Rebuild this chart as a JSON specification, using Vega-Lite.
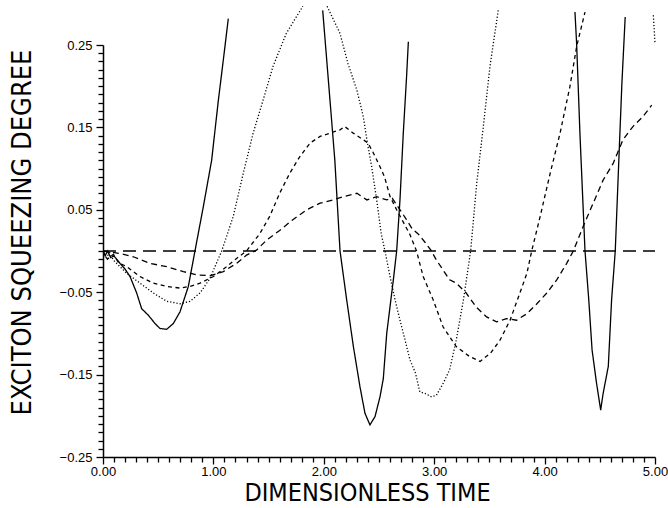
{
  "$schema": "https://vega.github.io/schema/vega-lite/v6.json",
  "width": 552,
  "height": 412,
  "autosize": {"type": "none"},
  "padding": {"left": 103, "top": 45, "right": 13, "bottom": 51},
  "background": "white",
  "config": {
    "view": {"stroke": null},
    "axis": {"grid": false, "domainColor": "black", "tickColor": "black", "labelColor": "black", "titleColor": "black", "labelFont": "Liberation Sans", "titleFont": "DejaVu Sans Condensed, DejaVu Sans", "titleFontWeight": "normal", "labelFontSize": 13, "titleFontSize": 25, "domainWidth": 1.5, "tickWidth": 1.3}
  },
  "data": {"values": [
    {"s":"Z","g":0,"t":0,"v":0},{"s":"Z","g":0,"t":5,"v":0},
    {"s":"A","g":1,"t":0,"v":0},{"s":"A","g":1,"t":0.02,"v":-0.006},{"s":"A","g":1,"t":0.04,"v":0.0},{"s":"A","g":1,"t":0.07,"v":-0.008},{"s":"A","g":1,"t":0.1,"v":-0.006},{"s":"A","g":1,"t":0.154,"v":-0.015},{"s":"A","g":1,"t":0.2,"v":-0.022},{"s":"A","g":1,"t":0.245,"v":-0.031},{"s":"A","g":1,"t":0.305,"v":-0.051},{"s":"A","g":1,"t":0.35,"v":-0.07},{"s":"A","g":1,"t":0.411,"v":-0.078},{"s":"A","g":1,"t":0.471,"v":-0.088},{"s":"A","g":1,"t":0.516,"v":-0.094},{"s":"A","g":1,"t":0.577,"v":-0.095},{"s":"A","g":1,"t":0.637,"v":-0.088},{"s":"A","g":1,"t":0.697,"v":-0.074},{"s":"A","g":1,"t":0.773,"v":-0.043},{"s":"A","g":1,"t":0.833,"v":0},{"s":"A","g":1,"t":0.909,"v":0.054},{"s":"A","g":1,"t":0.984,"v":0.11},{"s":"A","g":1,"t":1.045,"v":0.183},{"s":"A","g":1,"t":1.09,"v":0.232},{"s":"A","g":1,"t":1.135,"v":0.282},
    {"s":"A","g":2,"t":1.99,"v":0.292},{"s":"A","g":2,"t":2.056,"v":0.183},{"s":"A","g":2,"t":2.1,"v":0.11},{"s":"A","g":2,"t":2.147,"v":0},{"s":"A","g":2,"t":2.207,"v":-0.059},{"s":"A","g":2,"t":2.268,"v":-0.116},{"s":"A","g":2,"t":2.328,"v":-0.165},{"s":"A","g":2,"t":2.373,"v":-0.197},{"s":"A","g":2,"t":2.418,"v":-0.211},{"s":"A","g":2,"t":2.464,"v":-0.201},{"s":"A","g":2,"t":2.509,"v":-0.177},{"s":"A","g":2,"t":2.539,"v":-0.155},{"s":"A","g":2,"t":2.57,"v":-0.1},{"s":"A","g":2,"t":2.63,"v":-0.035},{"s":"A","g":2,"t":2.66,"v":0},{"s":"A","g":2,"t":2.69,"v":0.062},{"s":"A","g":2,"t":2.72,"v":0.143},{"s":"A","g":2,"t":2.75,"v":0.212},{"s":"A","g":2,"t":2.766,"v":0.254},
    {"s":"A","g":3,"t":4.275,"v":0.29},{"s":"A","g":3,"t":4.29,"v":0.252},{"s":"A","g":3,"t":4.32,"v":0.143},{"s":"A","g":3,"t":4.366,"v":0},{"s":"A","g":3,"t":4.4,"v":-0.059},{"s":"A","g":3,"t":4.43,"v":-0.12},{"s":"A","g":3,"t":4.47,"v":-0.16},{"s":"A","g":3,"t":4.508,"v":-0.193},{"s":"A","g":3,"t":4.53,"v":-0.173},{"s":"A","g":3,"t":4.577,"v":-0.14},{"s":"A","g":3,"t":4.607,"v":-0.059},{"s":"A","g":3,"t":4.64,"v":0},{"s":"A","g":3,"t":4.67,"v":0.102},{"s":"A","g":3,"t":4.7,"v":0.203},{"s":"A","g":3,"t":4.73,"v":0.284},
    {"s":"B","g":4,"t":0,"v":0},{"s":"B","g":4,"t":0.03,"v":-0.008},{"s":"B","g":4,"t":0.06,"v":-0.002},{"s":"B","g":4,"t":0.094,"v":-0.011},{"s":"B","g":4,"t":0.214,"v":-0.027},{"s":"B","g":4,"t":0.335,"v":-0.039},{"s":"B","g":4,"t":0.456,"v":-0.051},{"s":"B","g":4,"t":0.577,"v":-0.061},{"s":"B","g":4,"t":0.697,"v":-0.064},{"s":"B","g":4,"t":0.788,"v":-0.061},{"s":"B","g":4,"t":0.879,"v":-0.051},{"s":"B","g":4,"t":0.97,"v":-0.033},{"s":"B","g":4,"t":1.075,"v":0},{"s":"B","g":4,"t":1.18,"v":0.042},{"s":"B","g":4,"t":1.27,"v":0.094},{"s":"B","g":4,"t":1.36,"v":0.143},{"s":"B","g":4,"t":1.45,"v":0.183},{"s":"B","g":4,"t":1.54,"v":0.224},{"s":"B","g":4,"t":1.66,"v":0.264},{"s":"B","g":4,"t":1.81,"v":0.297},
    {"s":"B","g":5,"t":2.03,"v":0.297},{"s":"B","g":5,"t":2.147,"v":0.264},{"s":"B","g":5,"t":2.22,"v":0.227},{"s":"B","g":5,"t":2.3,"v":0.195},{"s":"B","g":5,"t":2.358,"v":0.163},{"s":"B","g":5,"t":2.39,"v":0.135},{"s":"B","g":5,"t":2.434,"v":0.102},{"s":"B","g":5,"t":2.479,"v":0.062},{"s":"B","g":5,"t":2.52,"v":0.021},{"s":"B","g":5,"t":2.554,"v":0},{"s":"B","g":5,"t":2.6,"v":-0.031},{"s":"B","g":5,"t":2.645,"v":-0.059},{"s":"B","g":5,"t":2.69,"v":-0.084},{"s":"B","g":5,"t":2.736,"v":-0.108},{"s":"B","g":5,"t":2.78,"v":-0.132},{"s":"B","g":5,"t":2.83,"v":-0.148},{"s":"B","g":5,"t":2.87,"v":-0.171},{"s":"B","g":5,"t":2.92,"v":-0.173},{"s":"B","g":5,"t":2.976,"v":-0.177},{"s":"B","g":5,"t":3.02,"v":-0.175},{"s":"B","g":5,"t":3.08,"v":-0.161},{"s":"B","g":5,"t":3.14,"v":-0.144},{"s":"B","g":5,"t":3.2,"v":-0.108},{"s":"B","g":5,"t":3.265,"v":-0.059},{"s":"B","g":5,"t":3.33,"v":0},{"s":"B","g":5,"t":3.385,"v":0.082},{"s":"B","g":5,"t":3.445,"v":0.151},{"s":"B","g":5,"t":3.505,"v":0.224},{"s":"B","g":5,"t":3.58,"v":0.292},
    {"s":"B","g":6,"t":4.985,"v":0.286},{"s":"B","g":6,"t":5.0,"v":0.252},
    {"s":"C","g":7,"t":0,"v":0},{"s":"C","g":7,"t":0.04,"v":-0.01},{"s":"C","g":7,"t":0.094,"v":-0.004},{"s":"C","g":7,"t":0.14,"v":-0.014},{"s":"C","g":7,"t":0.214,"v":-0.019},{"s":"C","g":7,"t":0.335,"v":-0.031},{"s":"C","g":7,"t":0.456,"v":-0.039},{"s":"C","g":7,"t":0.577,"v":-0.043},{"s":"C","g":7,"t":0.697,"v":-0.045},{"s":"C","g":7,"t":0.788,"v":-0.043},{"s":"C","g":7,"t":0.879,"v":-0.039},{"s":"C","g":7,"t":1.0,"v":-0.031},{"s":"C","g":7,"t":1.12,"v":-0.019},{"s":"C","g":7,"t":1.21,"v":-0.009},{"s":"C","g":7,"t":1.3,"v":0},{"s":"C","g":7,"t":1.42,"v":0.021},{"s":"C","g":7,"t":1.51,"v":0.042},{"s":"C","g":7,"t":1.6,"v":0.07},{"s":"C","g":7,"t":1.69,"v":0.094},{"s":"C","g":7,"t":1.78,"v":0.114},{"s":"C","g":7,"t":1.875,"v":0.131},{"s":"C","g":7,"t":1.966,"v":0.139},{"s":"C","g":7,"t":2.056,"v":0.143},{"s":"C","g":7,"t":2.147,"v":0.147},{"s":"C","g":7,"t":2.19,"v":0.151},{"s":"C","g":7,"t":2.267,"v":0.143},{"s":"C","g":7,"t":2.358,"v":0.135},{"s":"C","g":7,"t":2.4,"v":0.131},{"s":"C","g":7,"t":2.449,"v":0.119},{"s":"C","g":7,"t":2.51,"v":0.102},{"s":"C","g":7,"t":2.55,"v":0.09},{"s":"C","g":7,"t":2.6,"v":0.066},{"s":"C","g":7,"t":2.66,"v":0.05},{"s":"C","g":7,"t":2.72,"v":0.035},{"s":"C","g":7,"t":2.78,"v":0.02},{"s":"C","g":7,"t":2.84,"v":0.0},{"s":"C","g":7,"t":2.9,"v":-0.031},{"s":"C","g":7,"t":2.99,"v":-0.059},{"s":"C","g":7,"t":3.08,"v":-0.092},{"s":"C","g":7,"t":3.2,"v":-0.116},{"s":"C","g":7,"t":3.32,"v":-0.128},{"s":"C","g":7,"t":3.415,"v":-0.134},{"s":"C","g":7,"t":3.51,"v":-0.124},{"s":"C","g":7,"t":3.597,"v":-0.108},{"s":"C","g":7,"t":3.687,"v":-0.084},{"s":"C","g":7,"t":3.776,"v":-0.051},{"s":"C","g":7,"t":3.84,"v":-0.027},{"s":"C","g":7,"t":3.883,"v":0},{"s":"C","g":7,"t":3.96,"v":0.042},{"s":"C","g":7,"t":4.05,"v":0.094},{"s":"C","g":7,"t":4.14,"v":0.143},{"s":"C","g":7,"t":4.23,"v":0.2},{"s":"C","g":7,"t":4.29,"v":0.248},{"s":"C","g":7,"t":4.366,"v":0.29},
    {"s":"D","g":8,"t":0,"v":0},{"s":"D","g":8,"t":0.154,"v":-0.003},{"s":"D","g":8,"t":0.275,"v":-0.007},{"s":"D","g":8,"t":0.426,"v":-0.015},{"s":"D","g":8,"t":0.577,"v":-0.019},{"s":"D","g":8,"t":0.728,"v":-0.025},{"s":"D","g":8,"t":0.85,"v":-0.029},{"s":"D","g":8,"t":0.97,"v":-0.03},{"s":"D","g":8,"t":1.09,"v":-0.025},{"s":"D","g":8,"t":1.21,"v":-0.015},{"s":"D","g":8,"t":1.3,"v":-0.005},{"s":"D","g":8,"t":1.39,"v":0.001},{"s":"D","g":8,"t":1.48,"v":0.013},{"s":"D","g":8,"t":1.6,"v":0.025},{"s":"D","g":8,"t":1.72,"v":0.038},{"s":"D","g":8,"t":1.845,"v":0.05},{"s":"D","g":8,"t":1.966,"v":0.058},{"s":"D","g":8,"t":2.086,"v":0.062},{"s":"D","g":8,"t":2.177,"v":0.066},{"s":"D","g":8,"t":2.3,"v":0.07},{"s":"D","g":8,"t":2.39,"v":0.062},{"s":"D","g":8,"t":2.48,"v":0.066},{"s":"D","g":8,"t":2.57,"v":0.062},{"s":"D","g":8,"t":2.62,"v":0.064},{"s":"D","g":8,"t":2.68,"v":0.052},{"s":"D","g":8,"t":2.74,"v":0.04},{"s":"D","g":8,"t":2.8,"v":0.027},{"s":"D","g":8,"t":2.86,"v":0.02},{"s":"D","g":8,"t":2.92,"v":0.01},{"s":"D","g":8,"t":2.97,"v":0.001},{"s":"D","g":8,"t":3.02,"v":-0.011},{"s":"D","g":8,"t":3.08,"v":-0.023},{"s":"D","g":8,"t":3.14,"v":-0.035},{"s":"D","g":8,"t":3.2,"v":-0.039},{"s":"D","g":8,"t":3.29,"v":-0.051},{"s":"D","g":8,"t":3.38,"v":-0.068},{"s":"D","g":8,"t":3.475,"v":-0.08},{"s":"D","g":8,"t":3.565,"v":-0.086},{"s":"D","g":8,"t":3.655,"v":-0.082},{"s":"D","g":8,"t":3.746,"v":-0.084},{"s":"D","g":8,"t":3.84,"v":-0.076},{"s":"D","g":8,"t":3.93,"v":-0.064},{"s":"D","g":8,"t":4.02,"v":-0.051},{"s":"D","g":8,"t":4.11,"v":-0.035},{"s":"D","g":8,"t":4.2,"v":-0.015},{"s":"D","g":8,"t":4.26,"v":0},{"s":"D","g":8,"t":4.35,"v":0.03},{"s":"D","g":8,"t":4.44,"v":0.058},{"s":"D","g":8,"t":4.53,"v":0.086},{"s":"D","g":8,"t":4.62,"v":0.106},{"s":"D","g":8,"t":4.71,"v":0.135},{"s":"D","g":8,"t":4.8,"v":0.151},{"s":"D","g":8,"t":4.89,"v":0.163},{"s":"D","g":8,"t":4.97,"v":0.177}
  ]},
  "mark": {"type": "line", "color": "black", "strokeCap": "butt", "interpolate": "linear"},
  "encoding": {
    "x": {"field": "t", "type": "quantitative", "scale": {"domain": [0, 5], "nice": false, "zero": false},
      "axis": {"orient": "bottom",
        "values": [0,0.1,0.2,0.3,0.4,0.5,0.6,0.7,0.8,0.9,1,1.1,1.2,1.3,1.4,1.5,1.6,1.7,1.8,1.9,2,2.1,2.2,2.3,2.4,2.5,2.6,2.7,2.8,2.9,3,3.1,3.2,3.3,3.4,3.5,3.6,3.7,3.8,3.9,4,4.1,4.2,4.3,4.4,4.5,4.6,4.7,4.8,4.9,5],
        "labelExpr": "abs(datum.value - round(datum.value)) < 0.001 ? format(datum.value, '.2f') : ''",
        "tickSize": {"condition": {"test": "abs(datum.value - round(datum.value)) < 0.001", "value": 7}, "value": 5},
        "title": "DIMENSIONLESS TIME", "labelPadding": 1, "labelFlush": false, "labelOverlap": false, "titleX": 264, "titleY": 35, "titleAlign": "center", "titleBaseline": "middle"}},
    "y": {"field": "v", "type": "quantitative", "scale": {"domain": [-0.25, 0.25], "nice": false, "zero": false},
      "axis": {"orient": "left",
        "values": [-0.25,-0.24,-0.23,-0.22,-0.21,-0.2,-0.19,-0.18,-0.17,-0.16,-0.15,-0.14,-0.13,-0.12,-0.11,-0.1,-0.09,-0.08,-0.07,-0.06,-0.05,-0.04,-0.03,-0.02,-0.01,0,0.01,0.02,0.03,0.04,0.05,0.06,0.07,0.08,0.09,0.1,0.11,0.12,0.13,0.14,0.15,0.16,0.17,0.18,0.19,0.2,0.21,0.22,0.23,0.24,0.25],
        "labelExpr": "abs(round(abs(datum.value) * 100)) % 10 == 5 ? format(datum.value, '.2f') : ''",
        "tickSize": {"condition": {"test": "abs(round(abs(datum.value) * 100)) % 10 == 5", "value": 7}, "value": 5},
        "title": "EXCITON SQUEEZING DEGREE", "titleFontSize": 27, "labelPadding": 4, "labelOverlap": false, "labelFlush": false, "titleAngle": -90, "titleX": -81, "titleY": 187, "titleAlign": "center", "titleBaseline": "middle"}},
    "detail": {"field": "g", "type": "nominal"},
    "strokeDash": {"field": "s", "type": "nominal", "legend": null, "scale": {"domain": ["Z", "A", "B", "C", "D"], "range": [[13, 7], [1, 0], [1.2, 2], [4, 3.5], [6, 4]]}},
    "strokeWidth": {"field": "s", "type": "nominal", "legend": null, "scale": {"domain": ["Z", "A", "B", "C", "D"], "range": [1.3, 1.3, 1.1, 1.6, 1.6]}}
  }
}
